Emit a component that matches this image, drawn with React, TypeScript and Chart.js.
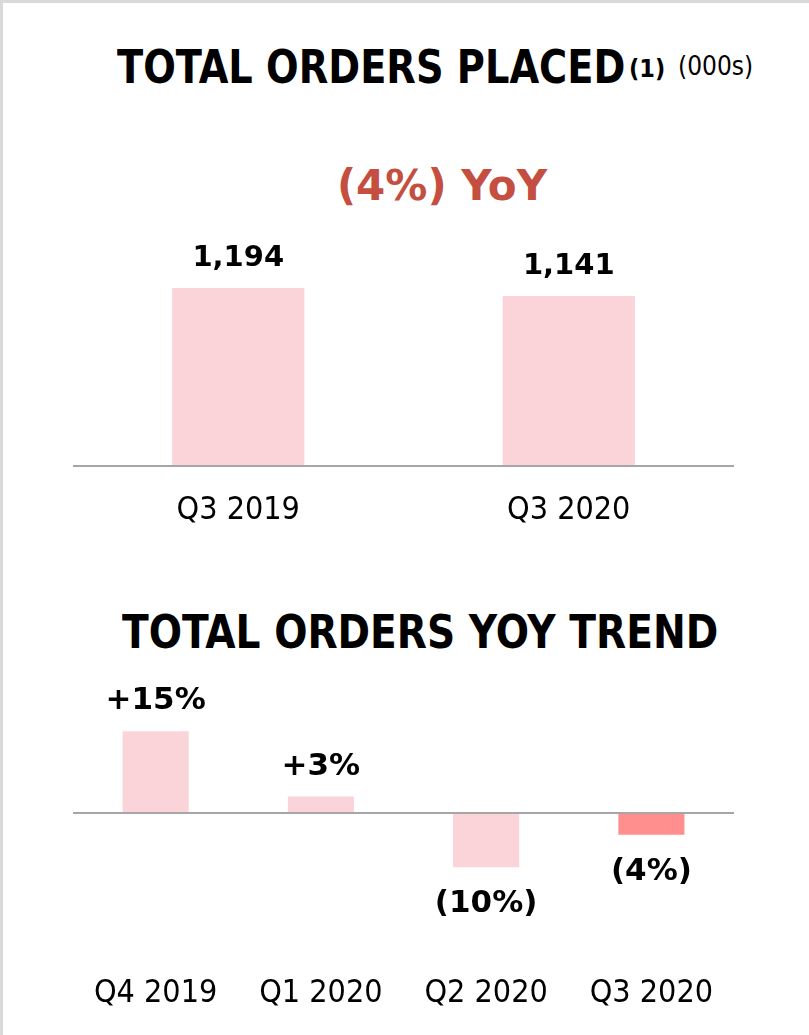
import React, { useEffect, useRef } from "react";
import { Chart, registerables } from "chart.js";

Chart.register(...registerables);

const placedCategories = ["Q3 2019", "Q3 2020"];
const placedValues = [1194, 1141];
const placedColors = ["#FAD4D8", "#FAD4D8"];

const trendCategories = ["Q4 2019", "Q1 2020", "Q2 2020", "Q3 2020"];
const trendValues = [15, 3, -10, -4];
const trendColors = ["#FAD4D8", "#FAD4D8", "#FAD4D8", "#FF8F8F"];

const FONT = "'DejaVu Sans Condensed', 'DejaVu Sans', sans-serif";
const WIDE = "'DejaVu Sans', sans-serif";

const baselinePlugin = {
  id: "baseline",
  afterDatasetsDraw(chart: any) {
    const { ctx, chartArea, scales } = chart;
    const y = Math.round(scales.y.getPixelForValue(0));
    ctx.save();
    ctx.strokeStyle = "#A6A6A6";
    ctx.lineWidth = 2;
    ctx.beginPath();
    ctx.moveTo(chartArea.left, y);
    ctx.lineTo(chartArea.right, y);
    ctx.stroke();
    ctx.restore();
  },
};

function makeValueLabelPlugin(format: (v: number) => string, size: number) {
  return {
    id: "valueLabels",
    afterDatasetsDraw(chart: any) {
      const { ctx } = chart;
      const meta = chart.getDatasetMeta(0);
      const data = chart.data.datasets[0].data as number[];
      ctx.save();
      ctx.font = `bold ${size}px ${WIDE}`;
      ctx.fillStyle = "#000";
      ctx.textAlign = "center";
      ctx.textBaseline = "middle";
      meta.data.forEach((el: any, i: number) => {
        const v = data[i];
        const y = v >= 0 ? el.y - 30 : el.y + 37;
        ctx.fillText(format(v), el.x, y);
      });
      ctx.restore();
    },
  };
}

function BarChart(props: {
  labels: string[];
  values: number[];
  colors: string[];
  min: number;
  max: number;
  top: number;
  height: number;
  padTop: number;
  padBottom: number;
  labelSize: number;
  format: (v: number) => string;
}) {
  const ref = useRef<HTMLCanvasElement>(null);
  useEffect(() => {
    const chart = new Chart(ref.current as HTMLCanvasElement, {
      type: "bar",
      data: {
        labels: props.labels,
        datasets: [
          {
            data: props.values,
            backgroundColor: props.colors,
            borderWidth: 0,
            barPercentage: 0.4,
            categoryPercentage: 1,
          },
        ],
      },
      options: {
        animation: false,
        responsive: false,
        maintainAspectRatio: false,
        layout: {
          padding: { left: 73, right: 75, top: props.padTop, bottom: props.padBottom },
        },
        plugins: {
          legend: { display: false },
          tooltip: { enabled: false },
          title: { display: false },
        },
        scales: {
          x: {
            grid: { display: false, drawTicks: false },
            border: { display: false },
            ticks: {
              color: "#000",
              padding: 25,
              font: { family: FONT, size: 32, lineHeight: 1.2 },
              maxRotation: 0,
              autoSkip: false,
            },
            afterFit: (scale: any) => {
              scale.height = 74;
            },
          },
          y: {
            display: false,
            min: props.min,
            max: props.max,
          },
        },
      },
      plugins: [baselinePlugin, makeValueLabelPlugin(props.format, props.labelSize)],
    });
    return () => chart.destroy();
  }, []);
  return (
    <canvas
      ref={ref}
      width={809}
      height={props.height}
      style={{ position: "absolute", left: 0, top: props.top, width: 809, height: props.height }}
    />
  );
}

export default function App() {
  const titleStyle: React.CSSProperties = {
    position: "absolute",
    fontFamily: FONT,
    fontWeight: "bold",
    fontSize: 46,
    color: "#000",
    whiteSpace: "nowrap",
    lineHeight: 1,
    transformOrigin: "left top",
  };
  return (
    <div
      style={{
        position: "absolute",
        left: 0,
        top: 0,
        width: 809,
        height: 1035,
        background: "#fff",
        overflow: "hidden",
      }}
    >
      <div style={{ position: "absolute", left: 0, top: 0, width: 809, height: 3, background: "#D9D9D9" }} />
      <div style={{ position: "absolute", left: 0, top: 0, width: 3, height: 1035, background: "#D9D9D9" }} />

      <div style={{ ...titleStyle, left: 117, top: 44, transform: "scaleX(0.927)" }}>TOTAL ORDERS PLACED</div>
      <div style={{ ...titleStyle, left: 629, top: 56, fontSize: 25 }}>(1)</div>
      <div style={{ ...titleStyle, left: 678, top: 53, fontSize: 26, fontWeight: "normal" }}>(000s)</div>

      <div
        style={{
          ...titleStyle,
          fontFamily: WIDE,
          left: 0,
          width: 884,
          textAlign: "center",
          top: 165,
          fontSize: 42,
          color: "#C44E3F",
        }}
      >
        (4%) YoY
      </div>

      <BarChart
        labels={placedCategories}
        values={placedValues}
        colors={placedColors}
        min={0}
        max={2000}
        top={140}
        height={400}
        padTop={28}
        padBottom={0}
        labelSize={29}
        format={(v) => v.toLocaleString("en-US")}
      />

      <div style={{ ...titleStyle, left: 122, top: 609, transform: "scaleX(0.946)" }}>TOTAL ORDERS YOY TREND</div>

      <BarChart
        labels={trendCategories}
        values={trendValues}
        colors={trendColors}
        min={-25}
        max={20}
        top={560}
        height={475}
        padTop={144}
        padBottom={12}
        labelSize={31}
        format={(v) => (v >= 0 ? `+${v}%` : `(${-v}%)`)}
      />
    </div>
  );
}
